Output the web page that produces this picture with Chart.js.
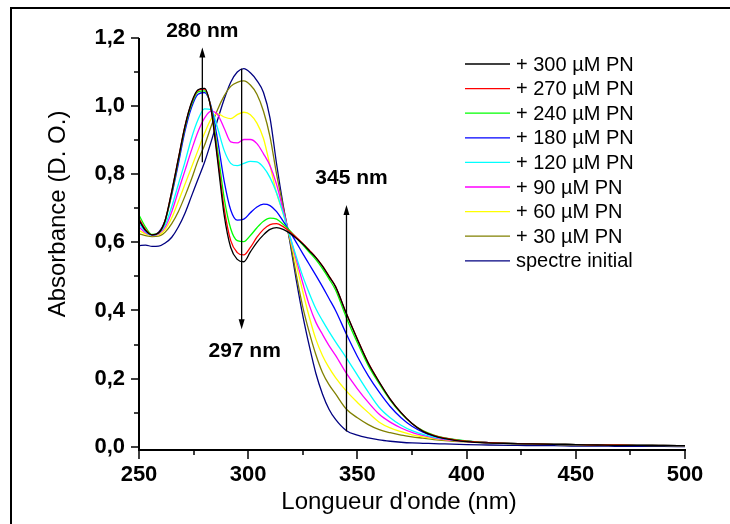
<!DOCTYPE html>
<html><head><meta charset="utf-8">
<script src="https://cdn.jsdelivr.net/npm/chart.js@4/dist/chart.umd.min.js"></script>
<style>html,body{margin:0;padding:0;background:#fff;}canvas{display:block;}</style>
</head><body>
<canvas id="c" width="730" height="524"></canvas>
<script>
const wavelengths = [250,253,256,259,262,265,268,271,274,277,280,283,286,289,292,295,298,301,304,307,310,313,316,319,322,325,328,331,334,337,340,345,350,355,360,365,370,375,380,385,390,400,410,420,430,440,450,460,470,480,490,500];

const pn300 = [0.665,0.635,0.622,0.628,0.665,0.75,0.845,0.94,1.01,1.048,1.052,0.99,0.84,0.68,0.585,0.55,0.543,0.572,0.60,0.622,0.638,0.643,0.638,0.627,0.612,0.595,0.575,0.555,0.53,0.50,0.47,0.39,0.315,0.245,0.19,0.14,0.10,0.068,0.045,0.032,0.024,0.015,0.011,0.009,0.008,0.007,0.006,0.005,0.004,0.004,0.003,0.003];
const pn270 = [0.67,0.638,0.622,0.628,0.665,0.75,0.845,0.94,1.008,1.046,1.05,0.992,0.85,0.70,0.605,0.57,0.563,0.585,0.615,0.638,0.652,0.655,0.646,0.632,0.615,0.597,0.577,0.556,0.531,0.501,0.47,0.39,0.316,0.246,0.19,0.14,0.10,0.068,0.046,0.033,0.025,0.016,0.012,0.01,0.008,0.007,0.006,0.005,0.005,0.004,0.004,0.003];
const pn240 = [0.68,0.645,0.623,0.628,0.662,0.745,0.84,0.935,1.003,1.042,1.045,0.995,0.87,0.73,0.64,0.605,0.602,0.62,0.643,0.662,0.671,0.668,0.653,0.635,0.614,0.593,0.571,0.549,0.523,0.493,0.46,0.378,0.305,0.238,0.185,0.137,0.098,0.068,0.047,0.034,0.026,0.017,0.012,0.01,0.008,0.007,0.006,0.005,0.005,0.004,0.004,0.003];
const pn180 = [0.665,0.635,0.622,0.63,0.665,0.74,0.83,0.925,0.995,1.035,1.04,1.0,0.9,0.78,0.695,0.665,0.668,0.687,0.704,0.712,0.708,0.69,0.662,0.632,0.6,0.567,0.535,0.503,0.47,0.435,0.40,0.33,0.265,0.208,0.16,0.118,0.085,0.06,0.043,0.032,0.025,0.016,0.012,0.01,0.008,0.007,0.006,0.005,0.005,0.004,0.004,0.003];
const pn120 = [0.655,0.632,0.621,0.627,0.652,0.705,0.77,0.835,0.905,0.96,0.992,0.99,0.935,0.87,0.832,0.825,0.832,0.838,0.836,0.82,0.79,0.745,0.685,0.62,0.558,0.5,0.45,0.405,0.37,0.338,0.308,0.26,0.21,0.16,0.115,0.085,0.063,0.047,0.036,0.028,0.023,0.016,0.012,0.01,0.008,0.007,0.006,0.005,0.005,0.004,0.004,0.003];
const pn90 = [0.645,0.628,0.62,0.625,0.645,0.69,0.75,0.81,0.87,0.925,0.965,0.985,0.975,0.935,0.895,0.892,0.902,0.902,0.89,0.86,0.825,0.77,0.695,0.62,0.55,0.48,0.415,0.365,0.33,0.297,0.268,0.215,0.17,0.13,0.095,0.072,0.055,0.042,0.033,0.026,0.021,0.015,0.012,0.01,0.008,0.007,0.006,0.005,0.005,0.004,0.004,0.003];
const pn60 = [0.635,0.625,0.62,0.622,0.638,0.672,0.72,0.77,0.82,0.87,0.92,0.962,0.978,0.968,0.963,0.975,0.982,0.975,0.95,0.905,0.825,0.745,0.685,0.615,0.535,0.455,0.38,0.315,0.268,0.232,0.203,0.163,0.13,0.1,0.072,0.055,0.044,0.035,0.029,0.024,0.02,0.015,0.012,0.01,0.008,0.007,0.006,0.005,0.005,0.004,0.004,0.003];
const pn30 = [0.625,0.62,0.617,0.618,0.63,0.655,0.69,0.735,0.785,0.84,0.885,0.94,0.99,1.03,1.058,1.07,1.074,1.062,1.035,0.985,0.91,0.8,0.705,0.61,0.505,0.41,0.335,0.27,0.218,0.182,0.155,0.11,0.085,0.065,0.05,0.041,0.034,0.029,0.025,0.021,0.018,0.014,0.011,0.009,0.008,0.007,0.006,0.005,0.004,0.004,0.003,0.003];
const initial = [0.59,0.592,0.588,0.589,0.598,0.615,0.645,0.685,0.735,0.785,0.835,0.895,0.96,1.02,1.07,1.1,1.11,1.098,1.075,1.04,0.965,0.83,0.71,0.605,0.49,0.385,0.295,0.215,0.155,0.11,0.08,0.047,0.034,0.026,0.02,0.016,0.013,0.011,0.01,0.009,0.008,0.006,0.005,0.004,0.003,0.003,0.002,0.002,0.001,0.001,0.001,0.0];

const seriesLabels = ['+ 300 µM PN','+ 270 µM PN','+ 240 µM PN','+ 180 µM PN','+ 120 µM PN','+ 90 µM PN','+ 60 µM PN','+ 30 µM PN','spectre initial'];
const seriesValues = [pn300, pn270, pn240, pn180, pn120, pn90, pn60, pn30, initial];
const seriesColors = ['#000000','#FF0000','#00FF00','#0000FF','#00FFFF','#FF00FF','#FFFF00','#808000','#000080'];

const xTicks = [250,300,350,400,450,500];
const xMinorTicks = [275,325,375,425,475];
const yTicks = [0,0.2,0.4,0.6,0.8,1.0,1.2];
const yMinorTicks = [0.1,0.3,0.5,0.7,0.9,1.1];

const arrowLambda = [279, 297, 345];
const arrowFrom = [0.835, 1.11, 0.045];
const arrowTo = [1.172, 0.345, 0.71];
const arrowText = ['280 nm','297 nm','345 nm'];

const xTitle = "Longueur d'onde (nm)";
const yTitle = 'Absorbance (D. O.)';

const FONT = 'Arial, "Liberation Sans", sans-serif';

const datasets = seriesLabels.map((lab, i) => ({
  label: lab,
  data: wavelengths.map((w, j) => ({x: w, y: seriesValues[i][j]})),
  borderColor: seriesColors[i],
  backgroundColor: seriesColors[i],
  borderWidth: 1.3,
  pointRadius: 0,
  fill: false,
  cubicInterpolationMode: 'monotone'
}));

const decor = {
  id: 'decor',
  beforeDraw(chart) {
    const ctx = chart.ctx;
    ctx.save();
    ctx.fillStyle = '#fff';
    ctx.fillRect(0, 0, chart.width, chart.height);
    ctx.fillStyle = '#000';
    ctx.fillRect(10, 7, chart.width - 10, 2);
    ctx.fillRect(10, 7, 2, chart.height - 7);
    ctx.restore();
  },
  afterDatasetsDraw(chart) {
    const ctx = chart.ctx;
    const xs = chart.scales.x, ys = chart.scales.y;
    const ca = chart.chartArea;
    ctx.save();
    ctx.fillStyle = '#000';
    ctx.strokeStyle = '#000';
    ctx.fillRect(ca.left - 1, ca.top, 2, ca.bottom - ca.top + 1);
    ctx.fillRect(ca.left - 1, ca.bottom - 1, ca.right - ca.left + 2, 2);
    ctx.lineWidth = 1.5;
    ctx.beginPath();
    xTicks.forEach(v => { const p = Math.round(xs.getPixelForValue(v)); ctx.moveTo(p, ca.bottom); ctx.lineTo(p, ca.bottom + 9); });
    xMinorTicks.forEach(v => { const p = Math.round(xs.getPixelForValue(v)); ctx.moveTo(p, ca.bottom); ctx.lineTo(p, ca.bottom + 5); });
    yTicks.forEach(v => { const p = Math.round(ys.getPixelForValue(v)); ctx.moveTo(ca.left, p); ctx.lineTo(ca.left - 8, p); });
    yMinorTicks.forEach(v => { const p = Math.round(ys.getPixelForValue(v)); ctx.moveTo(ca.left, p); ctx.lineTo(ca.left - 5, p); });
    ctx.stroke();
    ctx.lineWidth = 1.3;
    arrowLambda.forEach((w, i) => {
      const x = xs.getPixelForValue(w);
      const y0 = ys.getPixelForValue(arrowFrom[i]);
      const y1 = ys.getPixelForValue(arrowTo[i]);
      const dir = y1 < y0 ? 1 : -1;
      ctx.beginPath();
      ctx.moveTo(x, y0);
      ctx.lineTo(x, y1 + dir * 8);
      ctx.stroke();
      ctx.beginPath();
      ctx.moveTo(x, y1);
      ctx.lineTo(x - 3, y1 + dir * 10);
      ctx.lineTo(x + 3, y1 + dir * 10);
      ctx.closePath();
      ctx.fill();
    });
    ctx.font = 'bold 21px ' + FONT;
    ctx.textAlign = 'center';
    ctx.textBaseline = 'middle';
    const offs = [[0, -16], [3, 22], [5, -27]];
    arrowLambda.forEach((w, i) => {
      const x = xs.getPixelForValue(w) + offs[i][0];
      const y = ys.getPixelForValue(arrowTo[i]) + offs[i][1];
      ctx.fillText(arrowText[i], x, y);
    });
    ctx.font = '24px ' + FONT;
    ctx.fillText(xTitle, 399, 502);
    ctx.save();
    ctx.translate(58, 214);
    ctx.rotate(-Math.PI / 2);
    ctx.fillText(yTitle, 0, 0);
    ctx.restore();
    ctx.font = '20px ' + FONT;
    ctx.textAlign = 'left';
    ctx.lineWidth = 1.3;
    chart.data.datasets.forEach((ds, i) => {
      const y = 64 + i * 24.6;
      ctx.strokeStyle = ds.borderColor;
      ctx.beginPath();
      ctx.moveTo(465, y);
      ctx.lineTo(510, y);
      ctx.stroke();
      ctx.fillStyle = '#000';
      ctx.fillText(ds.label, 516, y + 1);
    });
    ctx.restore();
  }
};

new Chart(document.getElementById('c'), {
  type: 'line',
  data: { datasets },
  options: {
    responsive: false,
    animation: false,
    devicePixelRatio: 1,
    layout: { padding: { left: 0, right: 45, top: 38, bottom: 0 } },
    plugins: { legend: { display: false }, tooltip: { enabled: false } },
    scales: {
      x: {
        type: 'linear', min: 250, max: 500, position: 'bottom',
        grid: { display: false, drawTicks: false },
        border: { display: false },
        afterBuildTicks: s => { s.ticks = xTicks.map(v => ({ value: v })); },
        afterFit: s => { s.height = 74; },
        ticks: { color: '#000', padding: 12, maxRotation: 0, font: { family: FONT, size: 22, weight: 'bold' } }
      },
      y: {
        type: 'linear', min: -0.0097, max: 1.2,
        grid: { display: false, drawTicks: false },
        border: { display: false },
        afterBuildTicks: s => { s.ticks = yTicks.map(v => ({ value: v })); },
        afterFit: s => { s.width = 139; },
        ticks: { color: '#000', padding: 14, font: { family: FONT, size: 22, weight: 'bold' },
          callback: v => v.toFixed(1).replace('.', ',') }
      }
    }
  },
  plugins: [decor]
});
</script>
</body></html>
